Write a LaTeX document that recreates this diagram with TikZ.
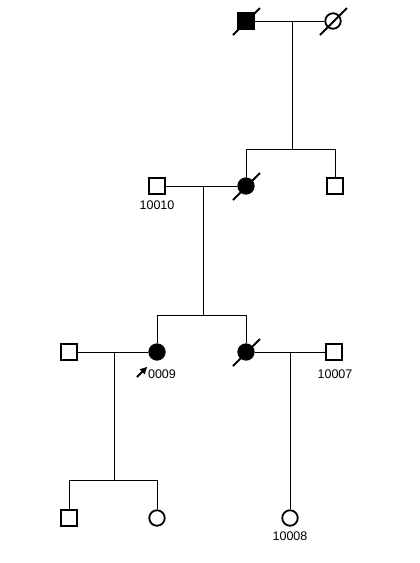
\documentclass[tikz,border=0pt]{standalone}
\usepackage{fontspec}
\setmainfont{Liberation Sans}
\usetikzlibrary{arrows.meta,calc}

\begin{document}
\begin{tikzpicture}[x=1pt,y=-1pt,
    male/.style={draw,line width=1.8pt,rectangle,minimum size=15.5pt,inner sep=0pt,fill=white},
    female/.style={draw,line width=1.8pt,circle,minimum size=15.5pt,inner sep=0pt,fill=white},
    affected/.style={fill=black},
    idlabel/.style={font=\fontsize{12.5}{14}\selectfont,inner sep=0pt},
    deceased/.style={line width=1.8pt},
    link/.style={line width=1pt}]
      \useasboundingbox (0,0) rectangle (420,563);
      \node[male,affected] (I1) at (246,21) {};
      \node[female] (I2) at (333,21) {};
      \node[male] (II1) at (157,186) {};
      \node[female,affected] (II2) at (246,186) {};
      \node[male] (II3) at (335,186) {};
      \node[male] (III1) at (69,352) {};
      \node[female,affected] (III2) at (157,352) {};
      \node[female,affected] (III3) at (246,352) {};
      \node[male] (III4) at (334,352) {};
      \node[male] (IV1) at (69,518) {};
      \node[female] (IV2) at (157,518) {};
      \node[female] (IV3) at (290,518) {};
      \node[idlabel] (l1) at (157,205) {10010};
      \node[idlabel] (l2) at (162,374) {0009};
      \node[idlabel] (l3) at (335,374) {10007};
      \node[idlabel] (l4) at (290,536) {10008};
      \coordinate (m1) at (292,21);
      \coordinate (m2) at (203,186);
      \coordinate (m3) at (114,352);
      \coordinate (m4) at (290,352);
      \coordinate (s1) at (292,149);
      \coordinate (s2) at (203,315);
      \coordinate (s3) at (114,480);
      \begin{scope}[link]
        \draw (I1) -- (I2);
        \draw (m1) -- (s1);
        \draw (II2 |- s1) -- (II3 |- s1);
        \draw (II2 |- s1) -- (II2);
        \draw (II3 |- s1) -- (II3);
        \draw (II1) -- (II2);
        \draw (m2) -- (s2);
        \draw (III2 |- s2) -- (III3 |- s2);
        \draw (III2 |- s2) -- (III2);
        \draw (III3 |- s2) -- (III3);
        \draw (III1) -- (III2);
        \draw (III3) -- (III4);
        \draw (m3) -- (s3);
        \draw (IV1 |- s3) -- (IV2 |- s3);
        \draw (IV1 |- s3) -- (IV1);
        \draw (IV2 |- s3) -- (IV2);
        \draw (m4) -- (IV3);
      \end{scope}
      \foreach \p in {I1,I2,II2,III3}
        \draw[deceased] (\p.center) ++(-13,14) -- ++(27,-27);
      \draw[line width=2pt,-{Latex[length=7.5pt,width=8pt]}] ($(III2)+(-20,25)$) -- ($(III2)+(-9.5,14.5)$);
    \end{tikzpicture}
\end{document}
